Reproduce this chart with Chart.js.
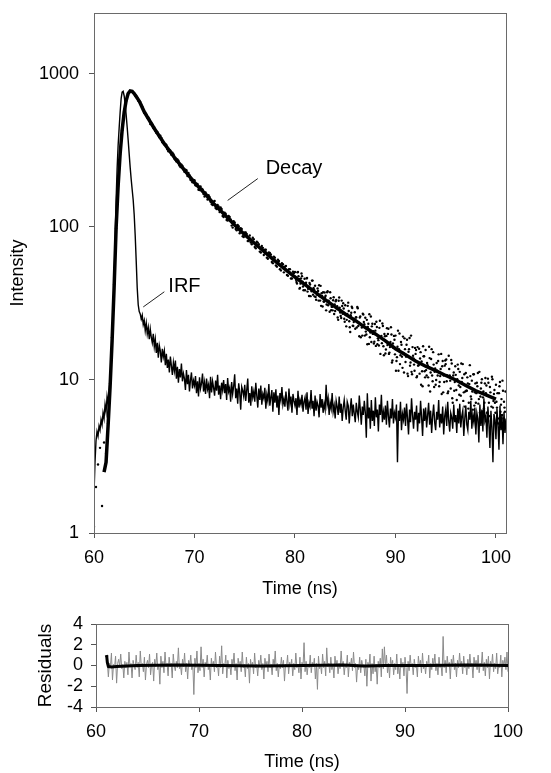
<!DOCTYPE html>
<html>
<head>
<meta charset="utf-8">
<title>Fluorescence decay and IRF</title>
<script src="https://cdn.jsdelivr.net/npm/chart.js@4.4.1/dist/chart.umd.min.js"></script>
<style>
  html, body { margin: 0; padding: 0; background: #fff; }
  #wrap { position: relative; width: 551px; height: 773px; }
  canvas { position: absolute; left: 0; }
  #decayChart { top: 0; }
  #residChart { top: 600px; }
</style>
</head>
<body>
<div id="wrap">
  <canvas id="decayChart" width="551" height="600"></canvas>
  <canvas id="residChart" width="551" height="173"></canvas>
</div>
<script>
// axis ticks
var timeTicks = [60, 70, 80, 90, 100];
var intensityTicks = [1, 10, 100, 1000];
var residualTicks = [-4, -2, 0, 2, 4];

// instrument response (IRF), one value every 0.1 ns from 60.0 ns
var irfStart = 60.0, irfStep = 0.1;
var irfValues = [
  1.8, 2.9, 4.0, 4.6, 4.3, 5.0, 4.7, 5.5, 5.1, 6.1,
  5.6, 6.9, 6.2, 7.8, 7.0, 8.6, 10, 13, 17, 25,
  45, 80, 150, 240, 340, 440, 560, 690, 760, 770,
  720, 640, 540, 450, 370, 300, 245, 205, 175, 150,
  120, 88, 60, 40, 31, 28, 27, 25, 26.5, 23,
  24.5, 21, 23.5, 20, 22, 18.5, 21.5, 19, 17.5, 20,
  16.5, 18.5, 15, 17.5, 14, 16.8, 15.5, 13, 16, 14.2,
  15.5, 12.5, 14.8, 12, 13.6, 11.2, 14.2, 12.4, 10.8, 13,
  11.5, 13.4, 10.2, 12.2, 9.6, 11.8, 10.4, 12.8, 9.8, 11,
  10.2, 8.6, 11.6, 9.4, 10.8, 8.4, 10, 11.2, 8.8, 9.9,
  9.2, 10.6, 8.2, 9.8, 7.8, 10.4, 8.8, 9.5, 11, 8.4,
  9.6, 8.1, 10.2, 8.7, 9.3, 7.6, 10.5, 8.3, 9.8, 8.9,
  7.9, 9.9, 8.5, 10.8, 8, 9.2, 7.5, 9.6, 8.6, 10,
  8.2, 9.4, 7.4, 10.3, 8.4, 8.9, 7.2, 9.7, 8.1, 9.1,
  10.9, 7.6, 8.8, 7, 9.5, 8.3, 6.4, 9, 8.5, 7.8,
  9.3, 7.3, 8.6, 10.2, 7.1, 8.2, 6.8, 9.1, 7.7, 8.4,
  7.2, 9.6, 7.9, 6.6, 8.8, 7.4, 9.2, 6.9, 8.1, 7.6,
  8.9, 6.5, 8, 7.3, 9.4, 6.8, 7.7, 8.6, 6.2, 8.3,
  7.1, 8.7, 6.6, 7.9, 5.9, 8.2, 7.4, 9, 6.9, 7.5,
  6.7, 8.4, 7.2, 6.3, 8.8, 7, 7.8, 6.1, 8.1, 7.3,
  6.8, 7.6, 5.9, 8.5, 6.6, 7.4, 6.9, 8, 6.2, 7.2,
  7.7, 6.4, 8.3, 6, 7.1, 6.7, 8.6, 6.5, 7.3, 5.8,
  7.9, 6.3, 7.2, 6.8, 5.7, 8.1, 6.6, 7.5, 6.1, 7,
  6.4, 9.3, 6.9, 7.6, 5.9, 7.1, 6.5, 8.2, 6.2, 6.8,
  5.6, 7.3, 6.7, 5.9, 7.8, 6.1, 7, 5.4, 6.6, 7.4,
  6.3, 5.5, 7.2, 6.8, 5.2, 6.5, 7.6, 5.8, 6.9, 6,
  5.3, 7.1, 6.2, 5.7, 7.9, 6.4, 5.1, 6.7, 5.9, 7.3,
  6.1, 4.2, 8.2, 5.6, 6.6, 4.8, 7.4, 5.4, 6.3, 5,
  7.7, 5.7, 6.4, 4.6, 6.9, 5.9, 8, 5.3, 6.2, 5.5,
  6.8, 5.1, 7.3, 5.8, 4.9, 6.5, 5.6, 7.5, 5.2, 6.1,
  5.7, 6.9, 2.9, 6.3, 5.4, 7.2, 4.7, 6, 5.5, 6.6,
  5, 7, 5.6, 4.4, 6.4, 5.3, 7.6, 5.9, 4.8, 6.2,
  5.5, 6.8, 4.6, 6.1, 5.2, 7.3, 5.7, 4.3, 6.5, 5.4,
  6.6, 4.9, 5.9, 7.1, 5.1, 6.3, 4.5, 5.8, 6.9, 5.3,
  4.7, 6.2, 5.5, 7.4, 4.9, 6, 5.2, 6.7, 4.4, 5.8,
  6.4, 5, 7.2, 5.4, 4.6, 6.1, 5.7, 4.8, 6.9, 5.3,
  5.9, 4.5, 6.5, 5.2, 7, 4.9, 5.8, 6.3, 4.3, 5.6,
  6.8, 5.1, 4.7, 6.2, 5.5, 7.3, 4.8, 5.9, 5.3, 6.6,
  4.4, 6.1, 5.6, 3.9, 6.9, 5, 6.4, 4.6, 7.6, 5.4,
  5.8, 4.2, 6.7, 5.2, 3.6, 6.3, 4.9, 2.9, 6, 5.5,
  4.1, 6.5, 5.1, 3.5, 6.8, 4.7, 5.9, 3.8, 6.2, 4.5,
  5.6
];

// measured decay counts
// every 0.2 ns from 60.0 to 79.8 ns
var dotsEarlyStart = 60.0, dotsEarlyStep = 0.2;
var decayDotsEarly = [
  1.1, 2.0, 2.8, 3.6, 1.5, 3.9, 3.3, 5.2, 9.5, 19,
  42, 98, 185, 300, 428, 565, 665, 748, 770, 762,
  738, 720, 668, 655, 612, 556, 545, 520, 470, 468,
  447, 412, 398, 395, 357, 346, 343, 312, 315, 306,
  279, 268, 271, 246, 250, 229, 235, 225, 203, 196,
  202, 186, 175, 184, 176, 158, 163, 161, 146, 139,
  148, 131, 136, 134, 118, 124, 111, 118, 112, 99,
  107, 95, 101, 98, 87, 92, 90, 81, 79, 85,
  74, 80, 77, 68, 73, 71, 63, 68, 66, 58,
  63, 55, 60, 52, 57, 55, 48.5, 53, 46, 51
];
// every 0.2 ns from 64.1 to 79.9 ns
var dotsMidStart = 64.1, dotsMidStep = 0.2;
var decayDotsMid = [
  722, 701, 658, 631, 580, 560, 519, 505, 479, 444,
  425, 417, 386, 382, 352, 349, 322, 318, 296, 299,
  274, 276, 252, 255, 238, 237, 215, 218, 201, 203,
  187, 191, 174, 178, 164, 168, 151, 157, 141, 146,
  133, 139, 125, 131, 116, 122, 110, 116, 102, 109,
  97, 103, 91, 97, 86, 92, 81, 88, 77, 83,
  72.5, 79, 69, 75, 65.5, 71, 62, 67.5, 59, 64,
  56, 61, 53, 58, 50.5, 55.5, 48, 53, 46, 50
];
// every 0.1 ns from 80.0 to 100.9 ns
var dotsLateStart = 80.0, dotsLateStep = 0.1;
var decayDotsLate = [
  50.8, 45.1, 42.7, 50.8, 45.8, 40.0, 46.1, 47.7, 40.8, 42.1,
  38.6, 43.2, 46.4, 39.4, 35.4, 42.1, 39.2, 44.6, 36.1, 39.0,
  41.3, 33.4, 36.0, 38.1, 41.6, 33.0, 30.5, 35.4, 37.4, 32.5,
  34.8, 28.5, 37.4, 30.8, 32.1, 37.4, 28.6, 30.1, 33.2, 27.0,
  28.2, 33.3, 30.3, 24.7, 34.6, 27.6, 25.4, 30.4, 31.7, 25.1,
  30.8, 22.4, 27.0, 32.0, 24.2, 20.6, 27.5, 29.5, 22.5, 24.9,
  21.6, 25.7, 30.0, 22.5, 19.3, 26.0, 23.0, 19.5, 26.8, 23.1,
  25.5, 19.8, 17.1, 23.3, 26.9, 20.4, 17.7, 23.3, 20.8, 17.8,
  21.0, 24.0, 17.1, 18.2, 21.9, 14.8, 19.4, 23.4, 16.6, 20.0,
  14.9, 19.4, 16.9, 21.6, 15.1, 17.7, 19.8, 13.4, 16.2, 18.3,
  19.5, 13.3, 16.5, 11.5, 20.1, 14.5, 17.0, 12.0, 15.0, 18.7,
  13.1, 17.0, 11.0, 15.3, 18.8, 13.0, 11.3, 16.4, 13.8, 11.5,
  14.8, 10.4, 16.4, 12.5, 11.0, 15.2, 13.2, 9.1, 14.3, 11.4,
  15.7, 10.7, 12.5, 9.2, 13.9, 11.2, 15.9, 9.8, 12.6, 11.3,
  9.3, 12.9, 10.7, 14.7, 9.7, 11.8, 8.1, 13.3, 10.7, 12.4,
  12.7, 9.8, 8.2, 14.4, 10.7, 8.8, 12.8, 7.1, 11.2, 9.7,
  10.8, 7.4, 12.6, 9.2, 11.3, 7.9, 9.7, 12.7, 8.3, 6.7,
  11.1, 8.5, 9.5, 7.1, 12.5, 7.8, 9.9, 6.4, 10.9, 8.3,
  7.1, 9.6, 11.1, 7.5, 6.1, 8.8, 10.1, 7.7, 6.5, 9.5,
  8.2, 6.1, 10.2, 7.1, 9.0, 5.4, 10.5, 6.6, 8.1, 7.1,
  9.3, 6.6, 5.6, 8.2, 9.7, 6.9, 5.9, 8.5, 7.2, 6.2
];
// every 0.1 ns from 80.05 to 100.95 ns
var dotsLate2Start = 80.05, dotsLate2Step = 0.1;
var decayDotsLate2 = [
  47.3, 43.7, 50.5, 47.7, 39.5, 42.6, 49.6, 43.8, 38.6, 45.9,
  42.8, 46.1, 37.8, 40.6, 43.0, 35.3, 38.0, 44.6, 39.9, 35.2,
  34.9, 37.5, 39.6, 33.0, 35.2, 41.2, 36.9, 30.2, 32.6, 37.3,
  35.5, 31.1, 38.0, 33.0, 27.9, 34.2, 30.1, 28.5, 34.7, 31.2,
  32.7, 29.4, 25.6, 32.9, 29.7, 26.2, 33.0, 27.1, 29.3, 24.0,
  26.6, 24.7, 30.5, 28.2, 22.1, 26.5, 30.1, 22.6, 23.9, 27.7,
  25.6, 22.0, 29.4, 23.7, 25.6, 19.0, 22.0, 27.1, 23.9, 19.5,
  20.7, 24.7, 22.2, 17.2, 19.0, 26.0, 22.4, 20.0, 17.3, 23.2,
  16.7, 22.2, 18.7, 16.8, 24.4, 19.0, 17.4, 22.5, 14.5, 19.3,
  15.8, 21.8, 20.0, 14.8, 16.4, 22.1, 13.0, 17.3, 19.4, 14.7,
  11.5, 14.1, 21.0, 15.9, 12.7, 17.7, 14.2, 19.2, 11.2, 15.9,
  14.2, 18.3, 10.6, 15.9, 12.4, 19.5, 10.9, 14.4, 12.6, 16.2,
  15.7, 10.6, 12.4, 16.0, 13.8, 9.3, 11.4, 16.6, 14.3, 10.4,
  11.6, 12.9, 10.4, 16.5, 8.4, 13.7, 10.7, 15.2, 9.0, 11.9,
  10.0, 11.5, 13.3, 9.1, 10.6, 14.8, 12.3, 8.3, 9.7, 13.4,
  13.6, 10.7, 8.4, 11.8, 9.9, 13.5, 7.6, 10.7, 8.5, 12.3,
  8.6, 10.1, 11.8, 8.0, 9.0, 12.8, 10.3, 7.3, 10.9, 8.4,
  8.5, 10.4, 6.5, 9.4, 10.6, 7.5, 8.4, 10.9, 6.8, 9.5,
  8.2, 9.1, 7.0, 11.3, 7.8, 9.6, 6.2, 8.4, 7.1, 10.3,
  9.2, 7.9, 9.6, 5.8, 8.3, 6.7, 10.1, 7.3, 8.6, 6.1,
  7.2, 8.2, 5.2, 9.1, 6.2, 7.5, 9.9, 5.6, 6.6, 8.4
];

// fitted decay curve
var fitTimes = [61.0, 61.2, 61.4, 61.6, 61.8, 62.0, 62.2, 62.4, 62.6, 62.8, 63.0, 63.2, 63.4, 63.6, 63.8, 64.0, 64.5,
  65, 66, 67, 68, 69, 70, 71, 72, 73, 74, 75, 76, 77, 78, 79, 80, 81, 82,
  83, 84, 85, 86, 87, 88, 89, 90, 91, 92, 93, 94, 95, 96, 97, 98, 99, 100];
var fitValues = [2.5, 2.9, 5, 9, 18, 40, 98, 185, 300, 430, 560, 670, 745, 775, 770, 745, 665,
  565, 440, 350, 285, 235, 195, 166, 140, 120, 103, 89, 78, 68.5, 60, 53, 47, 42, 37.5,
  33.5, 30, 27, 24.5, 22, 20, 18, 16, 14.6, 13.3, 12.3, 11.5, 10.7, 10, 9.2, 8.5, 8.0, 7.5];

// weighted residuals, every 0.1 ns from 61.0 ns
var residStart = 61.0, residStep = 0.1;
var residValues = [
  1.0, 0.3, -1.1, 0.2, -0.1, 1.2, -1.4, 0.1, -0.2, 0.9,
  -1.7, 0.2, 0.6, -0.1, 1.1, -0.3, 0.1, -1.2, 0.4, -0.2,
  0.3, -0.9, 1.3, -0.1, 0.2, -1.2, 0.5, 0.0, -0.4, 1.0,
  -0.2, 0.3, -1.1, 1.4, -0.1, 0.2, -0.6, 0.8, -1.4, 0.1,
  0.5, -0.2, 1.1, -0.9, 0.1, 0.3, -1.5, 0.6, -0.1, 1.2,
  -0.4, 0.1, -1.8, 0.9, -0.2, 0.4, -0.7, 1.3, -0.1, 0.2,
  -1.0, 0.8, -0.1, 0.2, -1.2, 1.1, 0.0, -0.5, 0.4, -0.2,
  1.7, -0.3, 0.1, -0.9, 0.6, -0.1, 1.2, -0.6, 0.2, -1.3,
  0.5, -0.1, 1.0, -0.4, 0.1, -2.8, 0.7, -0.2, 1.4, -0.7,
  0.2, -0.5, 1.8, -0.2, 0.6, -1.1, 0.3, -0.1, 1.0, -0.4,
  0.1, -1.4, 0.7, -0.1, 0.4, -0.6, 1.3, -0.2, 0.1, -1.0,
  0.9, -0.2, 1.9, -0.8, 0.2, -0.1, 1.0, -1.2, 0.5, -0.3,
  0.1, -0.9, 0.6, -0.1, 1.2, -0.5, 0.2, -1.4, 0.7, -0.1,
  0.4, -0.6, 1.3, -0.2, 0.1, -1.1, 0.8, -0.3, 0.2, -1.7,
  0.6, -0.1, 0.3, -0.8, 1.2, -0.2, 0.1, -1.0, 0.5, -0.1,
  1.0, -0.4, 0.2, -1.3, 0.7, -0.1, 0.4, -0.6, 1.1, -0.2,
  0.1, -0.9, 0.6, -0.1, 1.4, -0.5, 0.2, -1.1, 0.1, -0.3,
  0.8, -0.2, 0.5, -1.5, 0.1, -0.1, 1.0, -0.8, 0.3, -0.1,
  0.6, -1.0, 0.2, -0.4, 1.2, -0.2, 0.1, -0.7, 0.8, -1.3,
  0.3, -0.1, 2.2, -0.6, 0.4, -0.9, 0.1, -0.2, 1.0, -0.7,
  0.3, -0.1, 0.7, -1.3, 0.2, -2.3, 0.9, -0.3, 0.1, -0.8,
  1.1, -0.2, 0.4, -1.0, 1.7, -0.1, 0.2, -0.7, 0.8, -0.4,
  0.1, -1.2, 0.9, -0.1, 0.5, -0.8, 0.2, -0.3, 1.4, -0.1,
  0.4, -0.9, 0.1, -0.2, 1.0, -1.1, 0.3, -0.1, 0.7, -0.5,
  1.3, -0.2, 0.2, -1.6, 0.1, -0.4, 0.8, -0.7, 0.5, -0.1,
  0.1, -1.0, 0.6, -2.0, 0.3, -0.2, 1.1, -1.5, 0.2, -0.8,
  0.9, -0.6, 0.1, -1.8, 0.4, -0.2, 0.7, -1.1, 1.6, -0.3,
  1.8, -0.1, 1.0, -0.7, 0.2, -1.2, 0.8, -0.1, 0.5, -0.9,
  0.2, -0.4, 1.1, -0.8, 0.1, -1.3, 0.7, -0.2, 0.3, -1.0,
  0.8, -0.2, -2.7, 0.4, -0.5, 1.0, -0.1, 0.2, -0.9, 0.6,
  -0.2, 0.1, -1.1, 0.9, -0.1, 0.5, -0.7, 1.2, -0.3, 0.1,
  -0.8, 0.4, -0.1, 1.0, -1.2, 0.2, -0.4, 0.7, -0.1, 1.1,
  -0.5, 0.2, -0.9, 0.8, -0.2, 0.1, -1.0, 2.8, -0.2, 0.5,
  -0.7, 0.9, -0.1, 0.3, -1.3, 0.6, -0.1, 1.0, -0.4, 0.2,
  -1.1, 0.5, -0.2, 1.2, -0.1, 0.4, -0.8, 0.9, -0.2, 0.1,
  -0.9, 0.6, -0.3, 1.1, -0.1, 0.2, -1.2, 0.8, -0.1, 0.5,
  -0.4, 1.0, -0.7, 0.2, -0.1, 1.3, -0.5, 0.3, -1.0, 0.6,
  -0.2, 0.9, -1.3, 0.4, -0.1, 1.1, -0.6, 0.2, -0.3, 1.2,
  -0.8, 0.1, -0.2, 1.0, -1.1, 0.5, -0.1, 0.8, -0.4, 1.3,
  -0.6
];
// smoothed residual trace
var residFitTimes = [61.0, 61.05, 61.1, 61.2, 61.5, 62, 64, 68, 72, 76, 80, 84, 86, 88, 92, 96, 100];
var residFitValues = [1.0, 0.8, 0.3, -0.1, -0.15, -0.1, 0.0, 0.05, 0.0, -0.05, 0.0, 0.05, -0.05, 0.0, 0.0, 0.05, 0.0];

// curve labels and their leader lines (data coordinates)
var curveLabels = [
  { text: 'Decay', x: 79.9, y: 240 },
  { text: 'IRF', x: 69.0, y: 41 }
];
var decayLeaderTimes = [73.3, 76.3], decayLeaderValues = [149, 207];
var irfLeaderTimes = [64.9, 67.0], irfLeaderValues = [30, 37.7];

var fontFamily = "'Liberation Sans', Arial, Helvetica, sans-serif";
Chart.defaults.font.family = fontFamily;
Chart.defaults.font.size = 18;
Chart.defaults.color = '#000';

function sampled(start, step, values) {
  return values.map(function (v, i) { return { x: +(start + i * step).toFixed(2), y: v }; });
}
function paired(xs, ys) {
  return xs.map(function (x, i) { return { x: x, y: ys[i] }; });
}
function fixedTicks(list) {
  return function (scale) { scale.ticks = list.map(function (v) { return { value: v }; }); };
}

// box around the plot area
var framePlugin = {
  id: 'frame',
  afterDraw: function (chart) {
    var a = chart.chartArea, c = chart.ctx;
    c.save();
    c.strokeStyle = '#6a6a6a';
    c.lineWidth = 1;
    c.strokeRect(Math.round(a.left) + 0.5, Math.round(a.top) + 0.5,
      Math.round(a.right - a.left), Math.round(a.bottom - a.top));
    c.restore();
  }
};

var labelPlugin = {
  id: 'curveLabels',
  afterDatasetsDraw: function (chart, args, opts) {
    if (!opts.items) return;
    var c = chart.ctx, xs = chart.scales.x, ys = chart.scales.y;
    c.save();
    c.font = '20px ' + fontFamily;
    c.fillStyle = '#000';
    c.textAlign = 'center';
    c.textBaseline = 'middle';
    opts.items.forEach(function (it) {
      c.fillText(it.text, xs.getPixelForValue(it.x), ys.getPixelForValue(it.y));
    });
    c.restore();
  }
};

var axisGrid = { drawOnChartArea: false, drawTicks: true, tickLength: 5, color: '#555' };
var dotStyle = { showLine: false, pointRadius: 1.2, pointBorderWidth: 0, pointBackgroundColor: '#000' };

function dots(label, points) {
  return Object.assign({ label: label, data: points }, dotStyle);
}

new Chart(document.getElementById('decayChart'), {
  type: 'line',
  data: {
    datasets: [
      { label: 'Fit', data: paired(fitTimes, fitValues), borderColor: '#000', borderWidth: 3.5, pointRadius: 0 },
      dots('Decay', sampled(dotsEarlyStart, dotsEarlyStep, decayDotsEarly)),
      dots('Decay b', sampled(dotsMidStart, dotsMidStep, decayDotsMid)),
      dots('Decay c', sampled(dotsLateStart, dotsLateStep, decayDotsLate)),
      dots('Decay d', sampled(dotsLate2Start, dotsLate2Step, decayDotsLate2)),
      { label: 'IRF', data: sampled(irfStart, irfStep, irfValues), borderColor: '#000', borderWidth: 1.4, pointRadius: 0 },
      { label: 'decay leader', data: paired(decayLeaderTimes, decayLeaderValues), borderColor: '#222', borderWidth: 1, pointRadius: 0 },
      { label: 'irf leader', data: paired(irfLeaderTimes, irfLeaderValues), borderColor: '#222', borderWidth: 1, pointRadius: 0 }
    ]
  },
  options: {
    responsive: false,
    animation: false,
    devicePixelRatio: 1,
    layout: { padding: { left: 0, right: 45, top: 13, bottom: 0 } },
    elements: { line: { tension: 0 } },
    plugins: {
      legend: { display: false },
      tooltip: { enabled: false },
      curveLabels: { items: curveLabels }
    },
    scales: {
      x: {
        type: 'linear', min: 60, max: 101,
        afterBuildTicks: fixedTicks(timeTicks),
        afterFit: function (s) { s.height = 67; s.paddingLeft = 0; s.paddingRight = 0; },
        grid: axisGrid,
        border: { color: '#6a6a6a' },
        ticks: { padding: 9, maxRotation: 0, autoSkip: false },
        title: { display: true, text: 'Time (ns)', padding: { top: 0, bottom: 0 } }
      },
      y: {
        type: 'logarithmic', min: 1, max: 2500,
        afterBuildTicks: fixedTicks(intensityTicks),
        afterFit: function (s) { s.width = 94; s.paddingTop = 0; s.paddingBottom = 0; },
        grid: axisGrid,
        border: { color: '#6a6a6a' },
        ticks: { padding: 10, autoSkip: false, callback: function (v) { return String(v); } },
        title: { display: true, text: 'Intensity', padding: { top: 7, bottom: 0 } }
      }
    }
  },
  plugins: [framePlugin, labelPlugin]
});

new Chart(document.getElementById('residChart'), {
  type: 'line',
  data: {
    datasets: [
      { label: 'Smoothed', data: paired(residFitTimes, residFitValues), borderColor: '#000', borderWidth: 3, pointRadius: 0 },
      { label: 'Residuals', data: sampled(residStart, residStep, residValues), borderColor: '#8a8a8a', borderWidth: 1, pointRadius: 0 }
    ]
  },
  options: {
    responsive: false,
    animation: false,
    devicePixelRatio: 1,
    layout: { padding: { left: 0, right: 43, top: 24, bottom: 0 } },
    elements: { line: { tension: 0 } },
    plugins: { legend: { display: false }, tooltip: { enabled: false } },
    scales: {
      x: {
        type: 'linear', min: 60, max: 100,
        afterBuildTicks: fixedTicks(timeTicks),
        afterFit: function (s) { s.height = 66; s.paddingLeft = 0; s.paddingRight = 0; },
        grid: axisGrid,
        border: { color: '#6a6a6a' },
        ticks: { padding: 9, maxRotation: 0, autoSkip: false },
        title: { display: true, text: 'Time (ns)', padding: { top: 0, bottom: 0 } }
      },
      y: {
        type: 'linear', min: -4, max: 4,
        afterBuildTicks: fixedTicks(residualTicks),
        afterFit: function (s) { s.width = 96; s.paddingTop = 0; s.paddingBottom = 0; },
        grid: axisGrid,
        border: { color: '#6a6a6a' },
        ticks: { padding: 8, autoSkip: false, callback: function (v) { return String(v); } },
        title: { display: true, text: 'Residuals', font: { size: 19 }, padding: { top: 34, bottom: 0 } }
      }
    }
  },
  plugins: [framePlugin]
});
</script>
</body>
</html>
